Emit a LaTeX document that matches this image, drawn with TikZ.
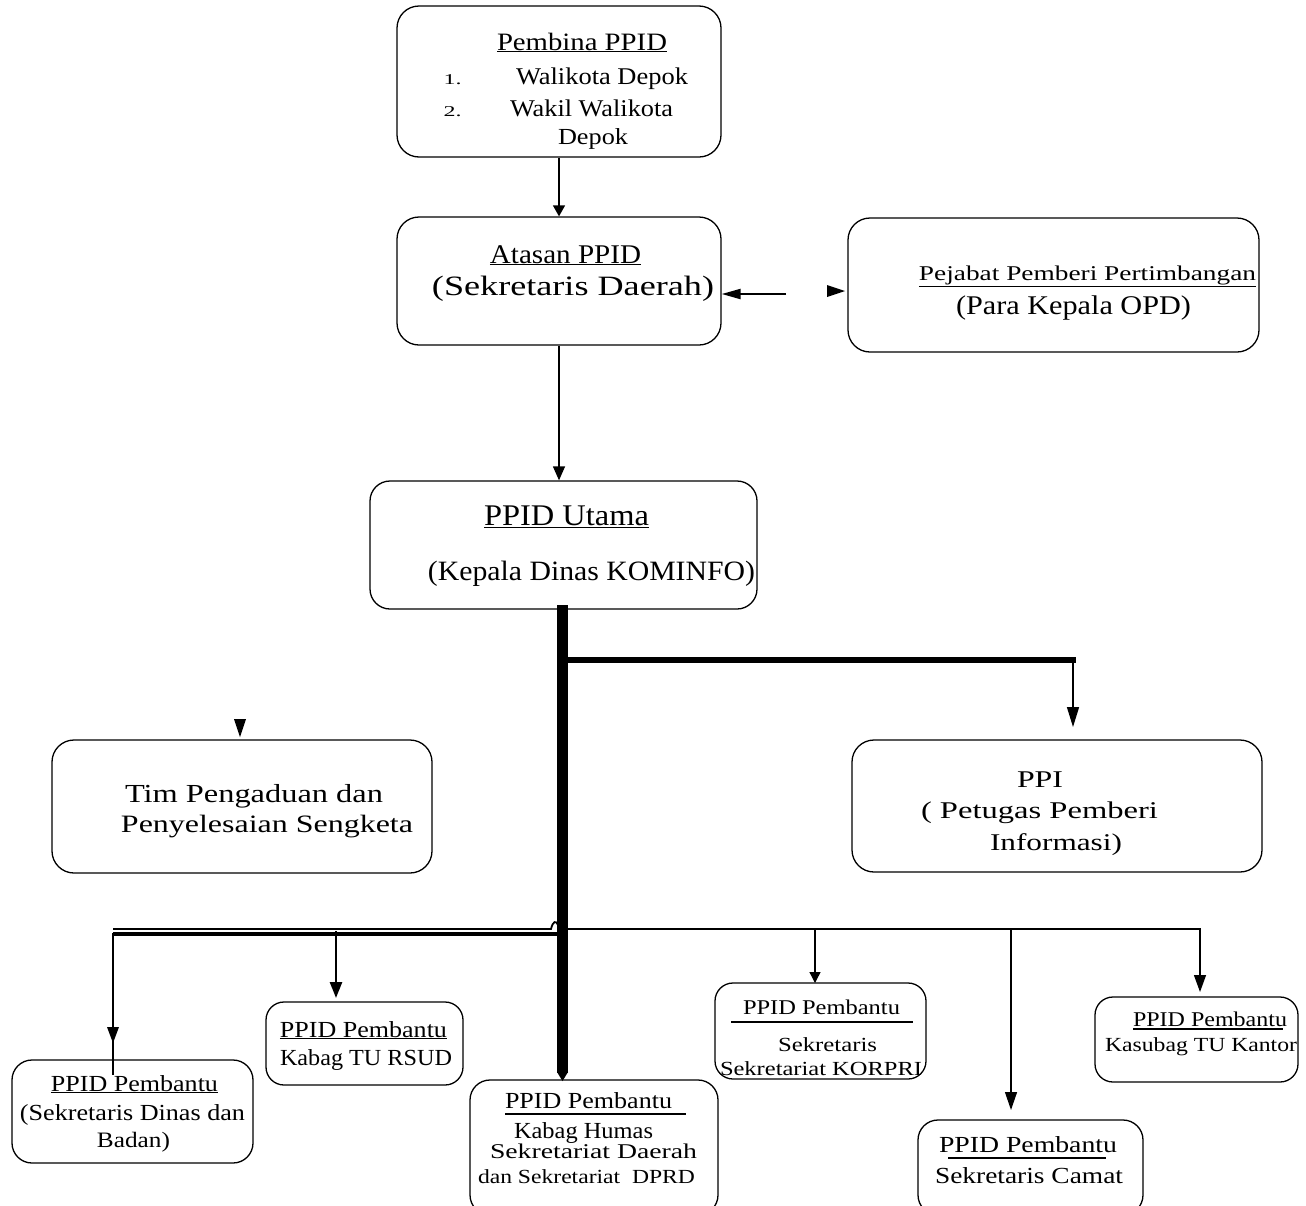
\documentclass[tikz,border=0pt]{standalone}
\usepackage{fontspec}
\setmainfont{Liberation Serif}
\usepackage{graphicx}
\usetikzlibrary{arrows.meta}
\newcommand{\ft}[3]{\resizebox{#2pt}{\height}{\fontsize{#1pt}{#1pt}\selectfont #3}}
\begin{document}
\begin{tikzpicture}[x=1pt,y=-1pt,
  box/.style={draw,line width=1.3pt,rounded corners=22pt,inner sep=0pt},
  txt/.style={inner sep=0pt,anchor=base},
  arr/.style={line width=1.3pt,-{Triangle[length=11pt,width=12pt]}},
  uline/.style={line width=2pt},
  tip/.style={fill=black}]
\useasboundingbox (0,0) rectangle (1306,1205);
\clip (0,0) rectangle (1306,1205);
\fill[white] (0,0) rectangle (1306,1205);

% boxes
\node[box,minimum width=324pt,minimum height=151pt] (pembina) at (559,81.5) {};
\node[box,minimum width=324pt,minimum height=128pt] (atasan) at (559,281) {};
\node[box,minimum width=411pt,minimum height=134pt] (pejabat) at (1053.5,285) {};
\node[box,minimum width=387pt,minimum height=128pt,rounded corners=20pt] (utama) at (563.5,545) {};
\node[box,minimum width=380pt,minimum height=133pt] (tim) at (242,806.5) {};
\node[box,minimum width=410pt,minimum height=132pt] (ppi) at (1057,806) {};
\node[box,minimum width=241pt,minimum height=103pt,rounded corners=20pt] (b1) at (132.5,1111.5) {};
\node[box,minimum width=197pt,minimum height=83pt,rounded corners=18pt] (b2) at (364.5,1043.5) {};
\node[box,minimum width=248pt,minimum height=135pt,rounded corners=20pt] (b3) at (594,1147.5) {};
\node[box,minimum width=211pt,minimum height=96pt,rounded corners=18pt] (b4) at (820.5,1031) {};
\node[box,minimum width=225pt,minimum height=95pt,rounded corners=20pt] (b5) at (1030.5,1167.5) {};
\node[box,minimum width=203pt,minimum height=85pt,rounded corners=18pt] (b6) at (1196.5,1039.5) {};

% texts
\node[txt] (pb0) at (582,50) {\ft{25}{170}{\underline{Pembina PPID}}};
\node[txt] (pb1n) at (452.5,84) {\ft{15}{18}{1.}};
\node[txt] (pb1) at (602,84) {\ft{24}{172}{Walikota Depok}};
\node[txt] (pb2n) at (452.5,116) {\ft{15}{18}{2.}};
\node[txt] (pb2) at (591.5,116) {\ft{24}{163}{Wakil Walikota}};
\node[txt] (pb3) at (593,144) {\ft{23}{70}{Depok}};

\node[txt] (at0) at (565.5,263) {\ft{27}{151}{\underline{Atasan PPID}}};
\node[txt] (at1) at (573,295) {\ft{28}{282}{(Sekretaris Daerah)}};

\node[txt] (pj0) at (1087.5,280) {\ft{21}{337}{\underline{Pejabat Pemberi Pertimbangan}}};
\node[txt] (pj1) at (1073.5,314) {\ft{27}{235}{(Para Kepala OPD)}};

\node[txt] (ut0) at (566.5,525) {\ft{30}{165}{\underline{PPID Utama}}};
\node[txt] (ut1) at (591.5,580) {\ft{28}{327}{(Kepala Dinas KOMINFO)}};

\node[txt] (tm0) at (254,802) {\ft{26}{258}{Tim Pengaduan dan}};
\node[txt] (tm1) at (267,832) {\ft{25}{292}{Penyelesaian Sengketa}};

\node[txt] (pp0) at (1040,787) {\ft{24}{46}{PPI}};
\node[txt] (pp1) at (1039.5,818) {\ft{24}{237}{( Petugas Pemberi}};
\node[txt] (pp2) at (1056,850) {\ft{24}{132}{Informasi)}};

\node[txt] (b1a) at (134.5,1091) {\ft{23}{167}{\underline{PPID Pembantu}}};
\node[txt] (b1b) at (132.5,1120) {\ft{23}{225}{(Sekretaris Dinas dan}};
\node[txt] (b1c) at (133.5,1147) {\ft{22}{73}{Badan)}};

\node[txt] (b2a) at (363.5,1037) {\ft{23}{167}{\underline{PPID Pembantu}}};
\node[txt] (b2b) at (366,1065) {\ft{23}{172}{Kabag TU RSUD}};

\node[txt] (b3a) at (588.5,1108) {\ft{23}{167}{PPID Pembantu}};
\node[txt] (b3b) at (583.5,1138) {\ft{23}{139}{Kabag Humas}};
\node[txt] (b3c) at (593.5,1158) {\ft{21}{207}{Sekretariat Daerah}};
\node[txt] (b3d) at (586.5,1183) {\ft{20}{217}{dan Sekretariat\ \ DPRD}};
\draw[uline,line width=1.6pt] (505,1114) -- (686,1114);

\node[txt] (b4a) at (821.5,1014) {\ft{21}{157}{PPID Pembantu}};
\node[txt] (b4b) at (827.5,1051) {\ft{20}{99}{Sekretaris}};
\node[txt] (b4c) at (821,1075) {\ft{20}{202}{Sekretariat KORPRI}};
\draw[uline,line width=2.4pt] (731,1022) -- (913,1022);

\node[txt] (b5a) at (1028,1152) {\ft{23}{178}{PPID Pembantu}};
\node[txt] (b5b) at (1029,1183) {\ft{23}{188}{Sekretaris Camat}};
\draw[uline,line width=2.4pt] (948,1158) -- (1106,1158);

\node[txt] (b6a) at (1210,1026) {\ft{21}{154}{PPID Pembantu}};
\node[txt] (b6b) at (1201,1051) {\ft{20}{192}{Kasubag TU Kantor}};
\draw[uline,line width=1.5pt] (1133,1029) -- (1283,1029);

% connectors top
\draw[arr] (pembina.south) -- (atasan.north);
\draw[line width=1.3pt,-{Triangle[length=14pt,width=12pt]}] (atasan.south) -- (atasan.south |- utama.north);

\coordinate (la) at (786,294);
\draw[line width=2.2pt,-{Triangle[length=19pt,width=10pt]}] (la) -- (la -| atasan.east);
\fill[tip] (827,285) -- (845,291) -- (827,297) -- cycle;

% thick horizontal to PPI
\coordinate (hA) at (562,660);
\coordinate (hB) at (1076,660);
\coordinate (ppiTip) at (1073,727);
\draw[line width=5.5pt] (hA) -- (hB);
\draw[line width=1.4pt,-{Triangle[length=20pt,width=12pt]}] (1073,660) -- (ppiTip);

% Tim arrowhead
\fill[tip] (234,719) -- (246,719) -- (240,737) -- cycle;

% bottom bus
\draw[line width=1.8pt] (113,929) -- (551,929) .. controls (553,921) and (556,920) .. (558,925);
\draw[line width=4pt] (113,934) -- (562,934);
\draw[line width=2.8pt,line join=miter] (113,933) -- (113,1075);
\fill[tip] (107,1027) -- (119,1027) -- (113,1043) -- cycle;
\coordinate (b2t) at (336,998);
\draw[line width=2.5pt,-{Triangle[length=16pt,width=12pt]}] (336,931) -- (b2t);

\draw[line width=1.7pt] (562,929) -- (1200,929);
\coordinate (b4t) at (815,983);
\coordinate (b5t) at (1011,1110);
\coordinate (b6t) at (1200,992);
\draw[line width=1.3pt,-{Triangle[length=11pt,width=11pt]}] (815,929) -- (b4t);
\draw[line width=1.3pt,-{Triangle[length=18pt,width=12pt]}] (1011,929) -- (b5t);
\draw[line width=1.3pt,-{Triangle[length=17pt,width=12pt]}] (1200,928.2) -- (b6t);

% thick vertical trunk
\coordinate (vA) at (562.5,605);
\coordinate (vB) at (562.5,1073);
\draw[line width=10.5pt] (vA) -- (vB);
\fill[tip] (557,1072) -- (568,1072) -- (562.5,1081) -- cycle;
\end{tikzpicture}
\end{document}
